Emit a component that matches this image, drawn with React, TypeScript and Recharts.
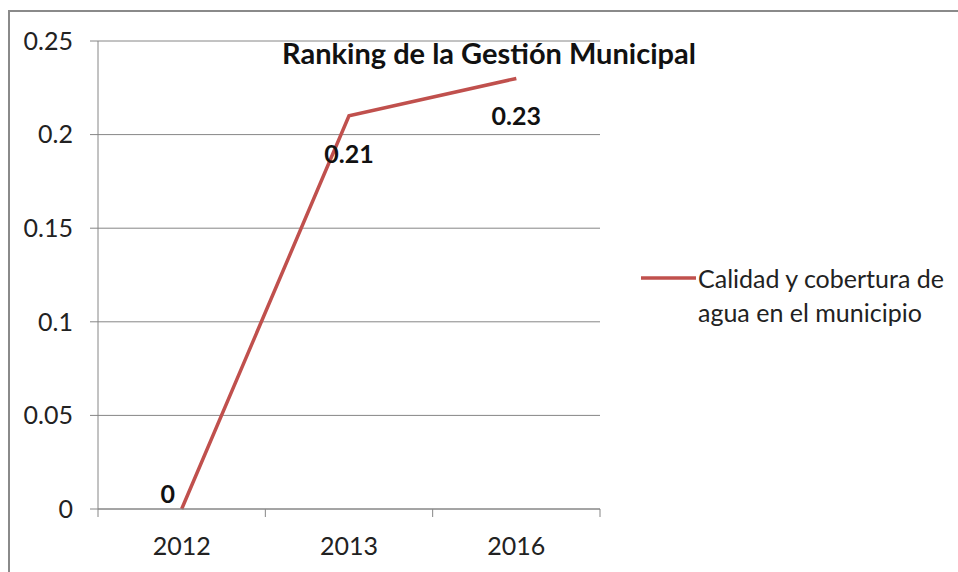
import React from 'react';
import { LineChart, Line, XAxis, YAxis, CartesianGrid, Legend, LabelList, Customized } from 'recharts';

const years = ['2012', '2013', '2016'];
const values = [0, 0.21, 0.23];
const yTicks = [0, 0.05, 0.1, 0.15, 0.2, 0.25];
const seriesName = 'Calidad y cobertura de agua en el municipio';
const legendLines = ['Calidad y cobertura de', 'agua en el municipio'];
const title = 'Ranking de la Gestión Municipal';

const data = years.map((y, i) => ({ year: y, value: values[i] }));

const W = 958;
const H = 572;
const PLOT_LEFT = 98;
const PLOT_RIGHT = 600;
const PLOT_TOP = 41;
const PLOT_BOTTOM = 509;
const BAND = (PLOT_RIGHT - PLOT_LEFT) / years.length;
const FONT = 'Lato, sans-serif';
const AXIS = '#868686';
const RED = '#C0504D';
const FS = 25;

const XTick = (props: any) => {
  const { x, payload, index } = props;
  const half = BAND / 2;
  return (
    <g>
      <line x1={x - half} x2={x - half} y1={PLOT_BOTTOM} y2={PLOT_BOTTOM + 8} stroke={AXIS} strokeWidth={1} />
      {index === years.length - 1 && (
        <line x1={x + half} x2={x + half} y1={PLOT_BOTTOM} y2={PLOT_BOTTOM + 8} stroke={AXIS} strokeWidth={1} />
      )}
      <text x={x} y={PLOT_BOTTOM + 36} textAnchor="middle" dominantBaseline="central" fill="#222" fontSize={FS} fontFamily={FONT}>
        {payload.value}
      </text>
    </g>
  );
};

const DataLabel = (props: any) => {
  const { x, y, value } = props;
  const below = value > 0;
  const lx = below ? x : x - 14;
  const ly = below ? y + 37 : y - 16;
  return (
    <text x={lx} y={ly} textAnchor="middle" dominantBaseline="central" fontWeight="bold" fontSize={FS} fill="#111" fontFamily={FONT}>
      {value}
    </text>
  );
};

const Title = () => (
  <text x={489} y={52} textAnchor="middle" dominantBaseline="central" fontWeight="bold" fontSize={29} fill="#111" fontFamily={FONT}>
    {title}
  </text>
);

const LegendContent = () => (
  <div style={{ display: 'flex', alignItems: 'flex-start', fontFamily: FONT, fontSize: FS, color: '#222' }}>
    <svg width={58} height={34} style={{ display: 'block' }}>
      <line x1={1} x2={56} y1={17} y2={17} stroke={RED} strokeWidth={3.5} />
    </svg>
    <div style={{ lineHeight: '34px', whiteSpace: 'nowrap' }}>
      {legendLines.map((l) => (
        <div key={l}>{l}</div>
      ))}
    </div>
  </div>
);

export default function App() {
  return (
    <div style={{ position: 'absolute', left: 0, top: 0, width: W, height: H, background: '#fff', overflow: 'hidden' }}>
      <div style={{ position: 'absolute', left: 8, top: 10, width: 1100, height: 1100, border: '2px solid #8a8a8a', boxSizing: 'border-box' }} />
      <div style={{ position: 'absolute', left: 0, top: 0 }}>
        <LineChart width={W} height={H} data={data} margin={{ top: PLOT_TOP, right: W - PLOT_RIGHT, left: 0, bottom: 0 }}>
          <CartesianGrid vertical={false} stroke={AXIS} strokeWidth={1} />
          <XAxis
            dataKey="year"
            height={H - PLOT_BOTTOM}
            padding={{ left: BAND / 2, right: BAND / 2 }}
            axisLine={{ stroke: AXIS }}
            tickLine={false}
            tick={<XTick />}
            interval={0}
          />
          <YAxis
            width={PLOT_LEFT}
            domain={[0, 0.25]}
            ticks={yTicks}
            interval={0}
            axisLine={{ stroke: AXIS }}
            tickLine={{ stroke: AXIS }}
            tickSize={8}
            tickMargin={17}
            tick={{ fill: '#222', fontSize: FS, fontFamily: FONT }}
          />
          <Legend
            layout="horizontal"
            verticalAlign="middle"
            align="center"
            wrapperStyle={{ position: 'absolute', left: 640, top: 261, width: 318 }}
            content={<LegendContent />}
          />
          <Line
            type="linear"
            dataKey="value"
            name={seriesName}
            stroke={RED}
            strokeWidth={3.5}
            dot={false}
            activeDot={false}
            isAnimationActive={false}
          >
            <LabelList dataKey="value" content={<DataLabel />} />
          </Line>
          <Customized component={Title} />
        </LineChart>
      </div>
    </div>
  );
}
